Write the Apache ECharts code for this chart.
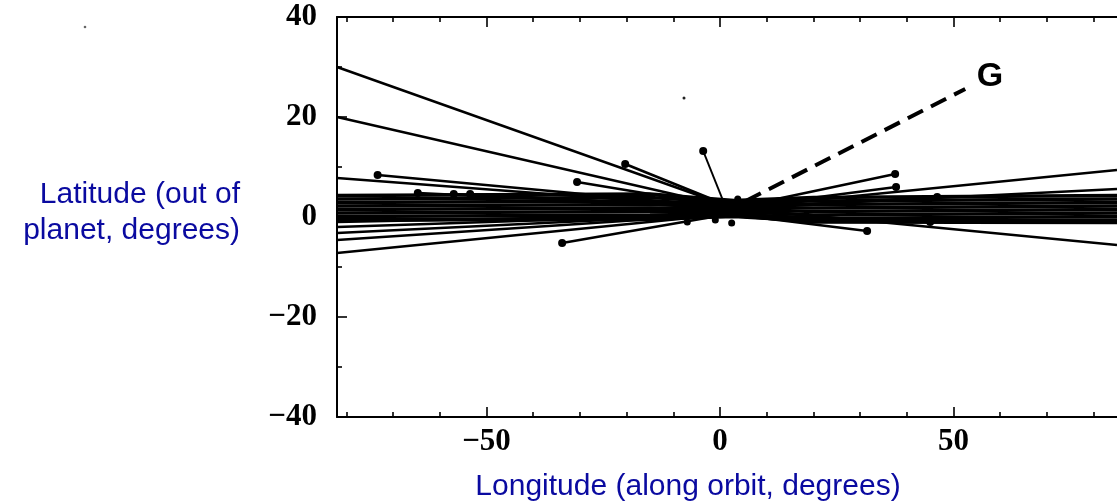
<!DOCTYPE html>
<html>
<head>
<meta charset="utf-8">
<script src="https://cdn.jsdelivr.net/npm/echarts@6/dist/echarts.min.js"></script>
<style>
  html, body { margin: 0; padding: 0; background: #fff; }
  #chart { width: 1117px; height: 504px; }
</style>
</head>
<body>
<div id="chart"></div>
<script>
// ---------------- data ----------------
const xMajorTicks = [-50, 0, 50];
const xMinorTicks = [-80, -70, -60, -40, -30, -20, -10, 10, 20, 30, 40, 60, 70, 80];
const yTicks = [-40, -20, 0, 20, 40];

// point where most tracks cross
const hub = [3, 1.8];

// thin tracks from the left edge to the hub
const upperLeftEnds = [[-82, 30], [-82, 20], [-82, 7.8]];
// thin tracks below the band, meeting just under the hub
const lowerLeftEnds = [[-82, -1.0], [-82, -2.0], [-82, -3.2], [-82, -4.6], [-82, -7.2]];
const lowerHub = [2, 0.6];
// thin tracks from the hub to the right edge
const rightEnds = [[85, 9.4], [85, 5.6], [85, -5.6]];
// tracks ending in a dot (far end shown as a filled dot)
const dotEnds = [[-73.3, 8.4], [-20.3, 10.6], [-30.6, 7.0], [-33.8, -5.2],
                 [-64.7, 4.8], [-57.0, 4.6], [-53.5, 4.6],
                 [37.5, 8.6], [37.7, 6.0], [31.5, -2.8], [46.5, 4.0], [45.0, -1.0]];
// short steep track with a dot
const shortTrack = [[-3.6, 13.2], [0.6, 3.4]];
// dense band of near-horizontal tracks: latitude at each band longitude
const bandX = [-82, -15, 3, 20, 85];
const bandTracks = [
  [4.3, 4.6, 3.3, 3.9, 4.3],
  [3.6, 3.9, 2.9, 3.2, 3.6],
  [2.9, 3.2, 2.5, 2.5, 2.9],
  [2.2, 2.5, 2.0, 1.8, 2.2],
  [1.5, 1.8, 1.6, 1.1, 1.5],
  [0.8, 1.1, 1.1, 0.4, 0.8],
  [0.1, 0.4, 0.6, -0.3, 0.1],
  [-0.5, -0.4, 0.1, -0.8, -0.6],
  [-0.6, -0.5, 0.3, -1.0, -1.1]
];
// dashed track G and its label
const gTrack = [[5.5, 3.2], [52.5, 25.6]];
const gLabel = [[57.8, 28, 'G']];
// blobs near the crossing and stray specks
const blobs = [[-7, -1], [-1, -0.6], [2.5, -1.2], [3.8, 3.6]];
const specks = [[-7.7, 23.8]];

// ---------------- chart ----------------
const chart = echarts.init(document.getElementById('chart'));
const BLACK = '#000';
const minusFmt = v => (v < 0 ? '\u2212' + Math.abs(v) : String(v));
const tickFont = { fontFamily: 'Liberation Serif', fontWeight: 'bold', fontSize: 31, color: BLACK };

function seg(points, width, extra) {
  return Object.assign({
    type: 'line', xAxisIndex: 0, yAxisIndex: 0,
    data: points, showSymbol: false, symbol: 'none', silent: true, animation: false,
    lineStyle: { color: BLACK, width: width, opacity: 1 }, z: 3
  }, extra || {});
}

const series = [];
bandTracks.forEach(t => series.push(seg(bandX.map((x, i) => [x, t[i]]), 3.6)));
upperLeftEnds.forEach(p => series.push(seg([p, hub], 2.4)));
lowerLeftEnds.forEach(p => series.push(seg([p, lowerHub], 2.4)));
rightEnds.forEach(p => series.push(seg([hub, p], 2.4)));
dotEnds.forEach(p => series.push(seg([p, p[1] < 0 ? lowerHub : hub], 2.6)));
series.push(seg(shortTrack, 2));
series.push(seg(gTrack, 4, { lineStyle: { color: BLACK, width: 4, type: [17, 9], opacity: 1 } }));
series.push({
  type: 'scatter', data: dotEnds.concat([shortTrack[0]]), symbolSize: 8,
  itemStyle: { color: BLACK, opacity: 1 }, silent: true, animation: false, z: 4
});
series.push({
  type: 'scatter', data: blobs, symbolSize: 7,
  itemStyle: { color: BLACK, opacity: 1 }, silent: true, animation: false, z: 4
});
series.push({
  type: 'scatter', data: specks, symbolSize: 3,
  itemStyle: { color: '#222', opacity: 1 }, silent: true, animation: false, z: 4
});
series.push({
  type: 'scatter', data: gLabel, symbolSize: 1, silent: true, animation: false, z: 5,
  itemStyle: { color: '#fff', opacity: 0 },
  label: {
    show: true, position: 'inside', formatter: p => p.data[2],
    fontFamily: 'Liberation Sans', fontWeight: 'bold', fontSize: 34, color: BLACK,
    opacity: 1, textBorderWidth: 0
  }
});

function xAx(position, values, len, showLine, labels) {
  return {
    type: 'value', min: -82, max: 85, position: position, gridIndex: 0,
    axisLine: { show: showLine, onZero: false, lineStyle: { color: BLACK, width: 2 } },
    axisTick: { show: true, inside: true, length: len, customValues: values,
                lineStyle: { color: BLACK, width: 1.6 } },
    axisLabel: labels ? Object.assign({ show: true, customValues: values, formatter: minusFmt, margin: 9 }, tickFont)
                      : { show: false },
    splitLine: { show: false }
  };
}

const option = {
  backgroundColor: '#fff',
  animation: false,
  grid: { left: 337, right: 0, top: 17, bottom: 87, containLabel: false },
  xAxis: [
    xAx('bottom', xMajorTicks, 10, true, true),
    xAx('bottom', xMinorTicks, 5, false, false),
    xAx('top', xMajorTicks, 10, true, false),
    xAx('top', xMinorTicks, 5, false, false)
  ],
  yAxis: [{
    type: 'value', min: -40, max: 40, interval: 20, position: 'left',
    axisLine: { show: true, onZero: false, lineStyle: { color: BLACK, width: 2 } },
    axisTick: { show: true, inside: true, length: 10, lineStyle: { color: BLACK, width: 1.6 } },
    minorTick: { show: true, splitNumber: 2, length: 5, lineStyle: { color: BLACK, width: 1.6 } },
    axisLabel: Object.assign({ show: true, formatter: minusFmt, margin: 20,
                               customValues: yTicks }, tickFont),
    splitLine: { show: false }
  }],
  graphic: [
    {
      type: 'text', x: 240, y: 213,
      style: {
        text: 'Latitude (out of\nplanet, degrees)', fill: '#0a0aa0',
        font: '30px "Liberation Sans", Arial, sans-serif', align: 'right',
        verticalAlign: 'middle', lineHeight: 36
      }
    },
    {
      type: 'text', x: 688, y: 487,
      style: {
        text: 'Longitude (along orbit, degrees)', fill: '#0a0aa0',
        font: '30px "Liberation Sans", Arial, sans-serif', align: 'center',
        verticalAlign: 'middle'
      }
    },
    { type: 'circle', shape: { cx: 85, cy: 27, r: 1.3 }, style: { fill: '#666' } }
  ],
  series: series
};
chart.setOption(option);
</script>
</body>
</html>
